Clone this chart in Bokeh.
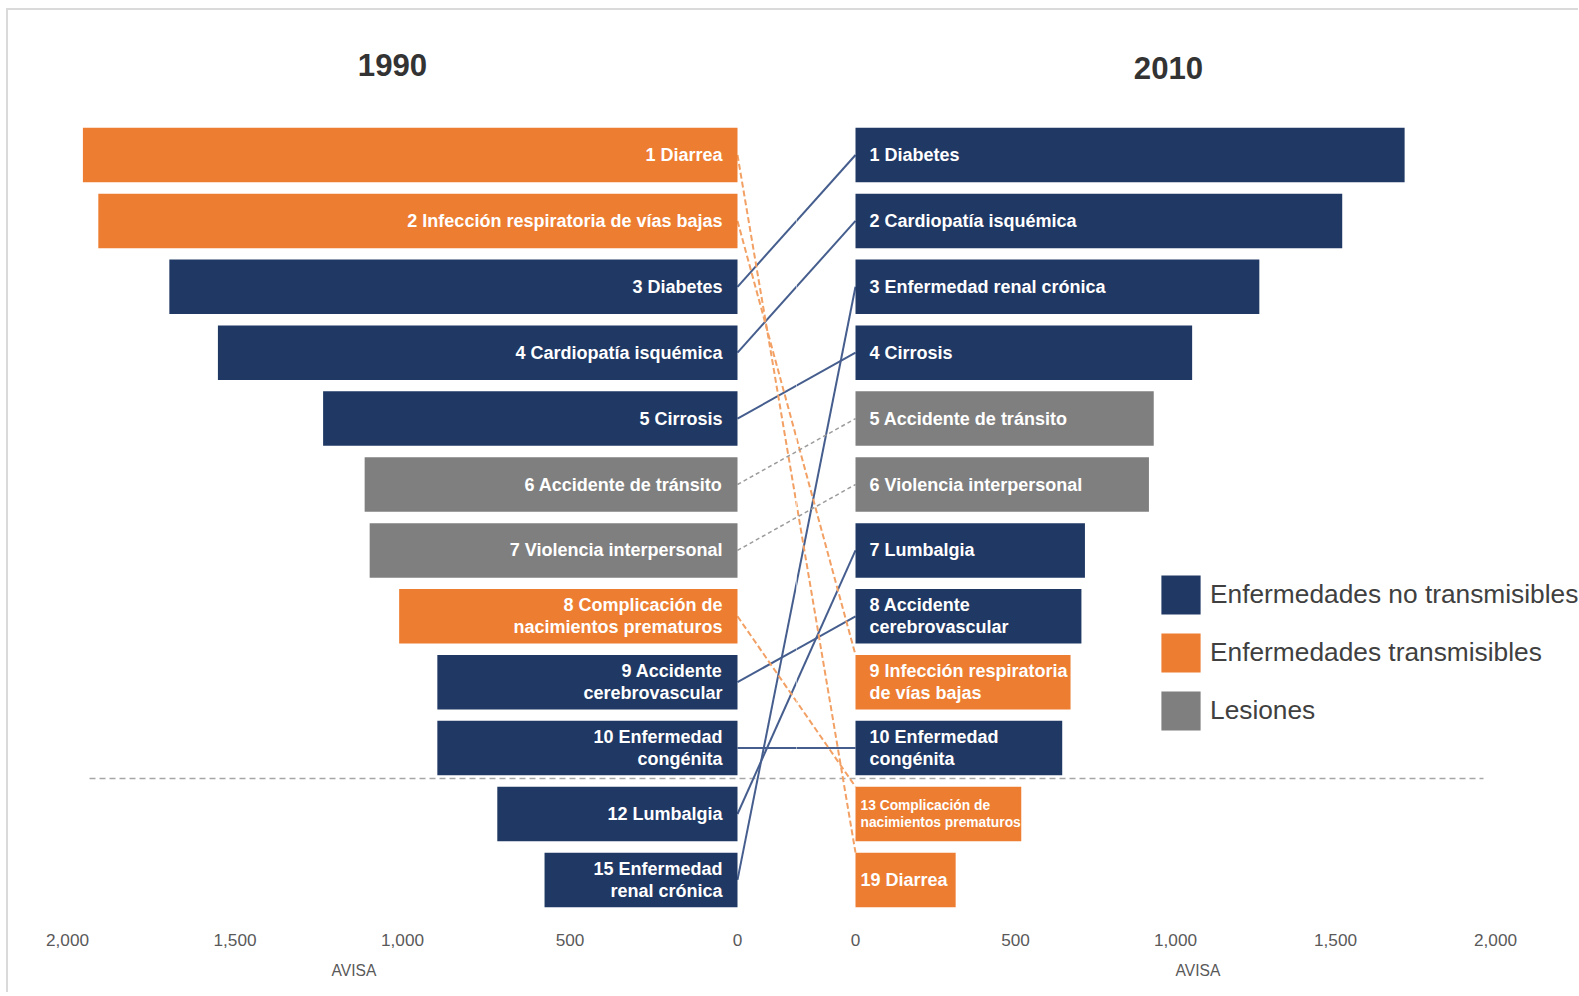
import os
import glob
import subprocess
from bokeh.plotting import figure
from bokeh.models import (Range1d, LinearAxis, FixedTicker, NumeralTickFormatter,
                          ColumnDataSource, Legend, LegendItem, Title)
from bokeh.layouts import row
from bokeh.embed import file_html
from bokeh.resources import INLINE
from bokeh.core.properties import value

# ---------------- data ----------------
causes = ["Diarrea", "Infección respiratoria de vías bajas", "Diabetes",
          "Cardiopatía isquémica", "Cirrosis", "Accidente de tránsito",
          "Violencia interpersonal", "Complicación de nacimientos prematuros",
          "Accidente cerebrovascular", "Enfermedad congénita", "Lumbalgia",
          "Enfermedad renal crónica"]
group = ["T", "T", "NT", "NT", "NT", "L", "L", "T", "NT", "NT", "NT", "NT"]

rank_1990 = [1, 2, 3, 4, 5, 6, 7, 8, 9, 10, 12, 15]
avisa_1990 = [1954, 1908, 1696, 1551, 1237, 1113, 1098, 1010, 896, 896, 717, 576]
label_1990 = ["1 Diarrea", "2 Infección respiratoria de vías bajas", "3 Diabetes",
              "4 Cardiopatía isquémica", "5 Cirrosis", "6 Accidente de tránsito",
              "7 Violencia interpersonal", "8 Complicación de\nnacimientos prematuros",
              "9 Accidente\ncerebrovascular", "10 Enfermedad\ncongénita",
              "12 Lumbalgia", "15 Enfermedad\nrenal crónica"]

rank_2010 = [19, 9, 1, 2, 4, 5, 6, 13, 8, 10, 7, 3]
avisa_2010 = [313, 672, 1716, 1521, 1052, 932, 917, 518, 706, 646, 717, 1262]
label_2010 = ["19 Diarrea", "9 Infección respiratoria\nde vías bajas", "1 Diabetes",
              "2 Cardiopatía isquémica", "4 Cirrosis", "5 Accidente de tránsito",
              "6 Violencia interpersonal", "13 Complicación de\nnacimientos prematuros",
              "8 Accidente\ncerebrovascular", "10 Enfermedad\ncongénita",
              "7 Lumbalgia", "3 Enfermedad renal crónica"]

tick_values = [0, 500, 1000, 1500, 2000]
years = ["1990", "2010"]
axis_title = "AVISA"
group_order = ["NT", "T", "L"]
group_names = {"NT": "Enfermedades no transmisibles",
               "T": "Enfermedades transmisibles",
               "L": "Lesiones"}

# ---------------- style ----------------
COL = {"NT": "#1F3864", "T": "#ED7D31", "L": "#7F7F7F"}
LINK = {"NT": ("#465E8E", "solid", 2.0),
        "T": ("#F2A064", "6 3", 2.0),
        "L": ("#9C9C9C", "4 3", 1.5)}
label2010_size = [22, 22, 22, 22, 22, 22, 22, 16.8, 22, 22, 22, 22]
label2010_off = [5, 14, 14, 14, 14, 14, 14, 5, 14, 14, 14, 14]


def has_font(name, filekey):
    try:
        out = subprocess.run(["fc-list", ":", "family"], capture_output=True,
                             text=True, timeout=10).stdout
        if name in out:
            return True
    except Exception:
        pass
    for d in ["/usr/share/fonts", "/usr/local/share/fonts",
              os.path.expanduser("~/.fonts"), os.path.expanduser("~/.local/share/fonts")]:
        if glob.glob(os.path.join(d, "**", f"*{filekey}*"), recursive=True):
            return True
    return False


if has_font("Liberation Sans Narrow", "LiberationSansNarrow"):
    NARROW, K = "Liberation Sans Narrow", 1.0
else:
    NARROW, K = "Liberation Sans", 0.82


def fs(px):
    return f"{px * K:.1f}px"


# ---------------- layout (page pixels) ----------------
PAGE_X, PAGE_Y = 8, 10          # canvas origin (after margin + border)
L_ZERO_PX, L_PX_PER = 737, 0.335
R_ZERO_PX, R_PX_PER = 855, 0.32
SPLIT_PX = 796
L_FRAME_X0, R_FRAME_X1 = 40, 1578
FRAME_TOP, FRAME_BOT = 30, 912
ROW1_PX, ROW_PX = 154.5, 65.9
BAR_FRAC = 0.827
FIG_H = 982
SEP_X0_PX, SEP_X1_PX, SEP_ROW = 89, 1483, 10.46
LEG_X_PX, LEG_Y_PX = 1156, 570
LEG_GLYPH, LEG_SPACING = 49, 9


def lx(px):
    return (L_ZERO_PX - px) / L_PX_PER


def rx(px):
    return (px - R_ZERO_PX) / R_PX_PER


def ry(py):
    return 1 + (py - ROW1_PX) / ROW_PX


slot_1990 = [sorted(rank_1990).index(r) + 1 for r in rank_1990]
slot_2010 = [sorted(rank_2010).index(r) + 1 for r in rank_2010]

y_range = Range1d(start=ry(FRAME_BOT), end=ry(FRAME_TOP))


def make_fig(width, xr, border_left, frame_x0, avisa_center_px):
    p = figure(width=width, height=FIG_H, x_range=xr, y_range=y_range, title=None,
               x_axis_location=None, y_axis_location=None,
               toolbar_location=None, output_backend="svg",
               min_border_left=border_left, min_border_right=0,
               min_border_top=FRAME_TOP - PAGE_Y,
               min_border_bottom=FIG_H - (FRAME_BOT - PAGE_Y),
               outline_line_color=None, background_fill_color="white",
               border_fill_color="white")
    p.grid.visible = False
    ax = LinearAxis(ticker=FixedTicker(ticks=tick_values),
                    formatter=NumeralTickFormatter(format="0,0"),
                    axis_line_color=None, major_tick_line_color=None,
                    minor_tick_line_color=None, major_label_standoff=15,
                    major_label_text_font=NARROW,
                    major_label_text_font_size=fs(21),
                    major_label_text_color="#595959")
    p.add_layout(ax, "below")
    avisa_w = 2.946 * 19 * K * (0.82 if K == 1.0 else 1.0)
    p.add_layout(Title(text=axis_title, align="left",
                       offset=avisa_center_px - avisa_w / 2 - frame_x0,
                       text_font=NARROW, text_font_style="normal",
                       text_font_size=fs(19), text_color="#595959",
                       standoff=22), "below")
    return p


pl = make_fig(SPLIT_PX - PAGE_X,
              Range1d(start=lx(L_FRAME_X0), end=lx(SPLIT_PX)),
              L_FRAME_X0 - PAGE_X, L_FRAME_X0, 354)
pr = make_fig(R_FRAME_X1 - SPLIT_PX,
              Range1d(start=rx(SPLIT_PX), end=rx(R_FRAME_X1)), 0, SPLIT_PX, 1198)

# separator dashed line (drawn identically in both panels)
for p, conv in ((pl, lx), (pr, rx)):
    p.segment(x0=[conv(SEP_X0_PX)], y0=[SEP_ROW], x1=[conv(SEP_X1_PX)], y1=[SEP_ROW],
              line_color="#A6A6A6", line_width=1.5, line_dash="6 4")

# links between rankings (drawn identically in both panels, clipped per frame)
for g in group_order:
    idx = [i for i in range(len(causes)) if group[i] == g]
    col, dash, w = LINK[g]
    y0 = [slot_1990[i] for i in idx]
    y1 = [slot_2010[i] - (BAR_FRAC / 2 if g == "T" else 0) for i in idx]
    for p, conv in ((pl, lx), (pr, rx)):
        p.segment(x0=[conv(L_ZERO_PX)] * len(idx), y0=y0,
                  x1=[conv(R_ZERO_PX)] * len(idx), y1=y1,
                  line_color=col, line_width=w, line_dash=dash)

# bars
legend_renderers = {}
for g in group_order:
    idx = [i for i in range(len(causes)) if group[i] == g]
    sl = ColumnDataSource(dict(y=[slot_1990[i] for i in idx], v=[avisa_1990[i] for i in idx]))
    pl.hbar(y="y", left=0, right="v", height=BAR_FRAC, source=sl,
            fill_color=COL[g], line_color=None)
    sr = ColumnDataSource(dict(y=[slot_2010[i] for i in idx], v=[avisa_2010[i] for i in idx]))
    legend_renderers[g] = pr.hbar(y="y", left=0, right="v", height=BAR_FRAC, source=sr,
                                  fill_color=COL[g], line_color=None)

# bar labels
src_l = ColumnDataSource(dict(y=slot_1990, t=label_1990))
pl.text(x=0, y="y", text="t", source=src_l, x_offset=-15, text_align="right",
        text_baseline="middle", text_color="white", text_font=value(NARROW),
        text_font_style="bold", text_font_size=fs(22), text_line_height=1.12)
src_r = ColumnDataSource(dict(y=slot_2010, t=label_2010,
                              s=[fs(v) for v in label2010_size], o=label2010_off))
pr.text(x=0, y="y", text="t", source=src_r, x_offset="o", text_align="left",
        text_baseline="middle", text_color="white", text_font=value(NARROW),
        text_font_style="bold", text_font_size="s", text_line_height=1.12)

# panel titles (years)
pl.text(x=[lx(392)], y=[ry(64)], text=[years[0]], text_align="center",
        text_baseline="middle", text_font=value(NARROW), text_font_style="bold",
        text_font_size=fs(38), text_color="#333333")
pr.text(x=[rx(1168)], y=[ry(67)], text=[years[1]], text_align="center",
        text_baseline="middle", text_font=value(NARROW), text_font_style="bold",
        text_font_size=fs(38), text_color="#333333")

# legend
LEG_H = 3 * LEG_GLYPH + 2 * LEG_SPACING
legend = Legend(items=[LegendItem(label=group_names[g], renderers=[legend_renderers[g]])
                       for g in group_order],
                location=(LEG_X_PX - SPLIT_PX, FRAME_BOT - LEG_Y_PX - LEG_H),
                glyph_width=LEG_GLYPH, glyph_height=LEG_GLYPH, label_height=LEG_GLYPH,
                label_width=10, spacing=LEG_SPACING, label_standoff=5,
                padding=0, margin=0, border_line_color=None, background_fill_alpha=0,
                label_text_font="Liberation Sans", label_text_font_size="26.3px",
                label_text_color="#404040")
pr.add_layout(legend)

layout = row(pl, pr, styles={"margin-left": "6px", "margin-top": "8px",
                             "border-top": "2px solid #dadada",
                             "border-left": "2px solid #dadada"})
open("out.html", "w").write(file_html(layout, INLINE))
